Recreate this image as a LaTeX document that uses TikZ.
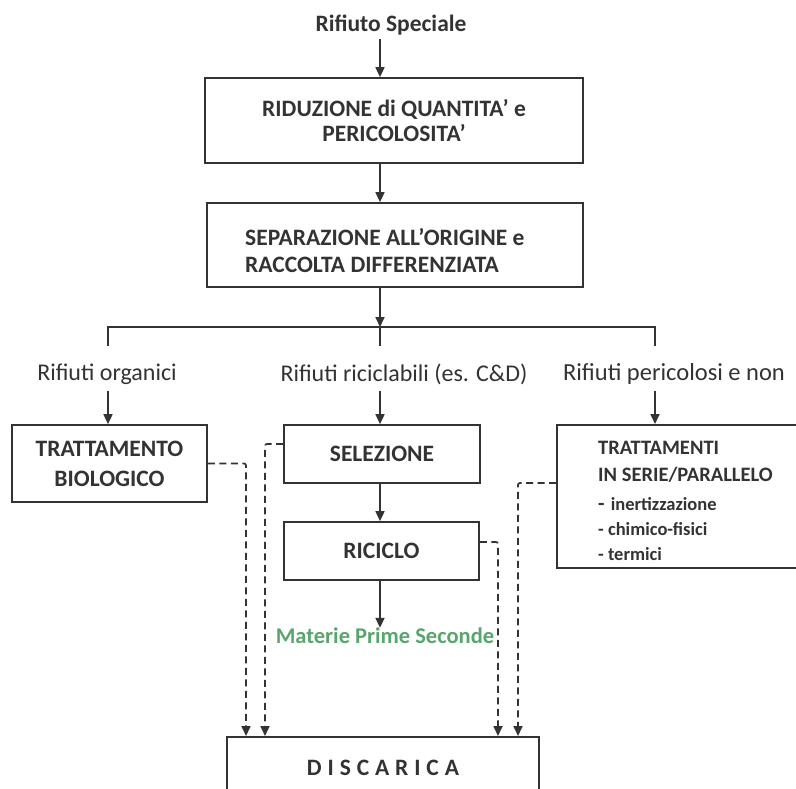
\documentclass[tikz,border=0pt]{standalone}
\usepackage{fontspec}
\setmainfont{Carlito}
\usetikzlibrary{arrows.meta}
\definecolor{ink}{RGB}{51,51,51}
\definecolor{mps}{RGB}{88,166,110}
\newcommand{\tightls}{\lineskiplimit=-100pt\relax}
\tikzset{
  box/.style={draw=ink, line width=1.7pt, rectangle, inner sep=0pt, text=ink, font=\fontsize{23.5}{25}\selectfont\bfseries\tightls, align=center},
  txt/.style={text=ink, inner sep=0pt, align=left},
  lbl/.style={text=ink, font=\fontsize{24}{28}\selectfont, inner sep=0pt},
  arr/.style={draw=ink, line width=1.7pt, -{Triangle[length=10pt,width=9pt]}},
  ln/.style={draw=ink, line width=1.7pt},
  dsh/.style={draw=ink, line width=1.7pt, dash pattern=on 7pt off 4.5pt, rounded corners=2pt, -{Triangle[length=10pt,width=9pt]}}
}
\begin{document}
\begin{tikzpicture}[x=1pt,y=-1pt]
\clip (0,0) rectangle (796,789);
\fill[white] (0,0) rectangle (796,789);
\coordinate (colx) at (380,0);
\node[lbl, font=\fontsize{23.5}{28}\selectfont\bfseries] (rs) at (391,25) {Rifiuto Speciale};
\node[box, minimum width=378, minimum height=85] (b1) at (394,120.5) {RIDUZIONE di QUANTITA’ e\\PERICOLOSITA’};
\node[box, minimum width=376, minimum height=84] (b2) at (395,245) {};
\node[txt, font=\fontsize{23.5}{27}\selectfont\bfseries\tightls, anchor=west] (b2t) at (245,251) {SEPARAZIONE ALL’ORIGINE e\\RACCOLTA DIFFERENZIATA};
\draw[arr] (rs.south -| colx) ++(0,4) -- (b1.north -| colx);
\draw[arr] (b1.south -| colx) -- (b2.north -| colx);
\coordinate (split) at (380,327);
\coordinate (hl) at (108,327);
\coordinate (hr) at (655,327);
\draw[arr] (b2.south -| colx) -- (split);
\draw[ln] (hl) ++(0,19) -- (hl) -- (hr) -- ++(0,19);
\draw[ln] (split) -- ++(0,19);
\node[lbl] (lo) at (107,374) {Rifiuti organici};
\node[lbl] (lr) at (404,374) {Rifiuti riciclabili (es. C\&D)};
\node[lbl, font=\fontsize{24.5}{28}\selectfont] (lp) at (674,374) {Rifiuti pericolosi e non};
\node[box, minimum width=195, minimum height=77, font=\fontsize{23.5}{30}\selectfont\bfseries\tightls] (tb) at (109.5,463.5) {TRATTAMENTO\\BIOLOGICO};
\node[box, minimum width=196, minimum height=58] (sel) at (382,454) {SELEZIONE};
\node[box, minimum width=195, minimum height=58] (ric) at (381.5,551) {RICICLO};
\node[box, minimum width=260, minimum height=143, anchor=north west] (tr) at (556,424) {};
\node[txt, font=\fontsize{20.5}{27}\selectfont\bfseries\tightls, anchor=north west] (trt) at (598,441) {TRATTAMENTI\\IN SERIE/PARALLELO};
\node[txt, font=\fontsize{18.5}{25}\selectfont\bfseries\tightls, anchor=north west] (trl) at (598,497) {{\fontsize{21}{25}\selectfont-}\,\,inertizzazione\\- chimico-fisici\\- termici};
\draw[arr] (lo.south -| hl) ++(0,6) -- (tb.north -| hl);
\draw[arr] (lr.south -| colx) ++(0,6) -- (sel.north -| colx);
\draw[arr] (lp.south -| hr) ++(0,6) -- (tr.north -| hr);
\draw[arr] (sel.south -| colx) -- (ric.north -| colx);
\node[font=\fontsize{22.5}{28}\selectfont\bfseries, text=mps, inner sep=0pt] (mps) at (385,636) {Materie Prime Seconde};
\draw[arr] (ric.south -| colx) -- (mps.north -| colx);
\node[box, minimum width=312, minimum height=80, anchor=north west] (dis) at (226,736) {};
\node[text=ink, font=\fontsize{23.5}{28}\selectfont\bfseries\addfontfeatures{LetterSpace=25}, inner sep=0pt] (dist) at (383,768) {DISCARICA};
\coordinate (d1) at (246,0);
\coordinate (d2) at (265,0);
\coordinate (d3) at (498,0);
\coordinate (d4) at (518,0);
\draw[dsh] (tb.east) -| (dis.north -| d1);
\draw[dsh] (sel.west |- 0,444) -| (dis.north -| d2);
\draw[dsh] (ric.east |- 0,542) -| (dis.north -| d3);
\draw[dsh] (tr.west |- 0,483) -| (dis.north -| d4);
\end{tikzpicture}
\end{document}
